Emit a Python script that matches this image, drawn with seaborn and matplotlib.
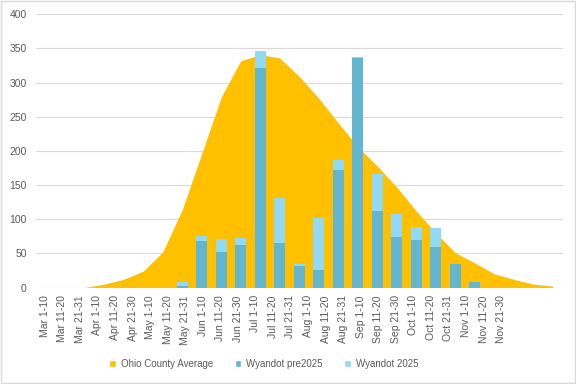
import matplotlib
matplotlib.use("Agg")
import matplotlib.pyplot as plt
import seaborn as sns
import numpy as np
from matplotlib.patches import Rectangle, Patch
from matplotlib import font_manager

categories = ["Mar 1-10", "Mar 11-20", "Mar 21-31", "Apr 1-10", "Apr 11-20", "Apr 21-30",
              "May 1-10", "May 11-20", "May 21-31", "Jun 1-10", "Jun 11-20", "Jun 21-30",
              "Jul 1-10", "Jul 11-20", "Jul 21-31", "Aug 1-10", "Aug 11-20", "Aug 21-31",
              "Sep 1-10", "Sep 11-20", "Sep 21-30", "Oct 1-10", "Oct 11-20", "Oct 21-31",
              "Nov 1-10", "Nov 11-20", "Nov 21-30"]
ohio_avg = [0, 0, 0, 5, 12, 24, 52, 114, 196, 279, 332, 341, 336, 309, 277, 241, 206,
            178, 147, 112, 80, 51, 36, 20, 12, 5, 2]
wyandot_pre2025 = [0, 0, 0, 0, 0, 0, 0, 2, 68, 52, 62, 322, 65, 31, 26, 172, 336,
                   112, 74, 70, 59, 34, 8, 0, 0, 0, 0]
wyandot_2025 = [0, 0, 0, 0, 0, 0, 0, 6, 8, 19, 11, 24, 66, 3, 76, 15, 2,
                54, 34, 18, 28, 1, 0, 0, 0, 0, 0]
series_names = ["Ohio County Average", "Wyandot pre2025", "Wyandot 2025"]
y_ticks = [0, 50, 100, 150, 200, 250, 300, 350, 400]

C_AREA = "#FFC000"
C_PRE = "#63B6CF"
C_NEW = "#92D9F5"
C_TEXT = "#595959"
C_GRID = "#D9D9D9"

sns.set_theme(style="white")
installed = {f.name for f in font_manager.fontManager.ttflist}
if "Liberation Sans Narrow" in installed:
    plt.rcParams["font.family"] = ["Liberation Sans Narrow", "DejaVu Sans"]
    FS, FS_LEG = 9, 8.5
else:
    plt.rcParams["font.family"] = ["Liberation Sans", "DejaVu Sans"]
    FS, FS_LEG = 7.5, 7

fig = plt.figure(figsize=(5.76, 3.84), dpi=100)
ax = fig.add_axes([36 / 576, 1 - 287.5 / 384, (562.5 - 36) / 576, (287.5 - 14.3) / 384])

x = np.arange(len(categories))
ax.fill_between(x, ohio_avg, 0, color=C_AREA, lw=0, zorder=1)

totals = [a + b for a, b in zip(wyandot_pre2025, wyandot_2025)]
sns.barplot(x=categories, y=totals, order=categories, color=C_NEW, saturation=1,
            width=0.56, errorbar=None, ax=ax, zorder=2, linewidth=0, edgecolor="none")
sns.barplot(x=categories, y=wyandot_pre2025, order=categories, color=C_PRE, saturation=1,
            width=0.56, errorbar=None, ax=ax, zorder=3, linewidth=0, edgecolor="none")

ax.set_xlim(-0.5, len(categories) - 0.5)
ax.set_ylim(0, 400)
ax.set_yticks(y_ticks)
ax.yaxis.grid(True, color=C_GRID, lw=0.8)
ax.set_axisbelow(True)
for s in ax.spines.values():
    s.set_visible(False)
ax.tick_params(axis="y", length=0, pad=6.7, labelsize=FS, labelcolor=C_TEXT)
ax.tick_params(axis="x", length=0, labelbottom=False)
ax.set_xlabel("")
ax.set_ylabel("")

# category label axis (30 slots)
axl = ax.twiny()
axl.set_xlim(-0.5, 29.5)
axl.set_xticks(np.arange(len(categories)))
axl.set_xticklabels(categories, rotation=90)
axl.xaxis.set_ticks_position("bottom")
axl.tick_params(axis="x", length=0, pad=5.5, labelsize=FS, labelcolor=C_TEXT)
for s in axl.spines.values():
    s.set_visible(False)

handles = [Patch(facecolor=C_AREA), Patch(facecolor=C_PRE), Patch(facecolor=C_NEW)]
leg = fig.legend(handles, series_names, loc="center", bbox_to_anchor=(0.458, 0.052), ncol=3,
                 frameon=False, fontsize=FS_LEG, handlelength=0.7, handleheight=0.7,
                 handletextpad=0.5, columnspacing=2.2)
for t in leg.get_texts():
    t.set_color(C_TEXT)

fig.patches.append(Rectangle((0.001, 0.0015), 0.997, 0.996, transform=fig.transFigure,
                             fill=False, edgecolor=C_GRID, lw=1))

fig.savefig("out.png", dpi=100)
